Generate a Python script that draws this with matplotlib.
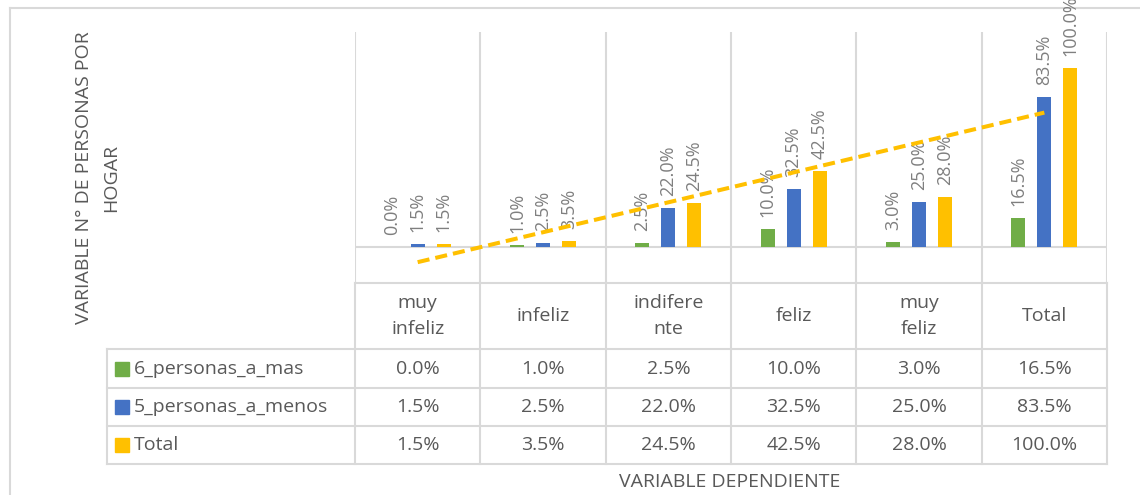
import numpy as np
import matplotlib
matplotlib.use('Agg')
import matplotlib.pyplot as plt
from matplotlib.patches import Rectangle

plt.rcParams['font.family'] = ['Open Sans', 'DejaVu Sans']

# datos
categorias = ['muy\ninfeliz', 'infeliz', 'indifere\nnte', 'feliz', 'muy\nfeliz', 'Total']
series = ['6_personas_a_mas', '5_personas_a_menos', 'Total']
seis_mas = [0.000, 0.010, 0.025, 0.100, 0.030, 0.165]
cinco_menos = [0.015, 0.025, 0.220, 0.325, 0.250, 0.835]
total = [0.015, 0.035, 0.245, 0.425, 0.280, 1.000]
valores = [seis_mas, cinco_menos, total]
colores = ['#70ad47', '#4472c4', '#ffc000']

titulo_x = 'VARIABLE DEPENDIENTE'
titulo_y = 'VARIABLE N° DE PERSONAS POR\nHOGAR'

gris = '#d9d9d9'
texto = '#595959'
etiqueta = '#7f7f7f'
fs = 14

W, H = 1140, 495
fig = plt.figure(figsize=(W / 100, H / 100), dpi=100, facecolor='white')

# caja en pixeles
x0, x1 = 355, 1107       # area de grafico / tabla
y_top, y_base = 32, 283  # area de grafico
filas = [283, 349, 388, 426, 464]
x_leyenda = 107

ax = fig.add_axes([x0 / W, 1 - y_base / H, (x1 - x0) / W, (y_base - y_top) / H])
ax.set_facecolor('none')
n = len(categorias)
x = np.arange(n)
ancho = 0.11
sep = 0.207
for i, (vals, c) in enumerate(zip(valores, colores)):
    pos = x + (i - 1) * sep
    ax.bar(pos, vals, width=ancho, color=c, zorder=2)
    for p, v in zip(pos, vals):
        ax.annotate('%.1f%%' % (v * 100), (p, v), xytext=(0, 12), textcoords='offset pixels',
                    rotation=90, ha='center', va='bottom', fontsize=13, color=etiqueta,
                    zorder=3, annotation_clip=False)

# linea de tendencia (total)
m, b = np.polyfit(x + 1, total, 1)
ax.plot(x, m * (x + 1) + b, color='#ffc000', lw=2.9, ls=(0, (3, 1.5)), zorder=4,
        solid_capstyle='butt', dash_capstyle='butt')

for xv in np.arange(n + 1) - 0.5:
    ax.axvline(xv, color=gris, lw=1.5, zorder=1)
ax.axhline(0, color=gris, lw=1.5, zorder=1)
ax.set_xlim(-0.5, n - 0.5)
ax.set_ylim(-0.2, 1.2)
ax.set_xticks([])
ax.set_yticks([])
for s in ax.spines.values():
    s.set_visible(False)

# tabla de datos
tb = fig.add_axes([0, 0, 1, 1], zorder=-1)
tb.set_xlim(0, W)
tb.set_ylim(H, 0)
tb.axis('off')

cw = (x1 - x0) / n
bordes = [x0 + k * cw for k in range(n + 1)]
tb.plot([10, W], [8, 8], color=gris, lw=1.5)
tb.plot([10, 10], [8, H], color=gris, lw=1.5)
tb.plot([x0, x1], [filas[0], filas[0]], color=gris, lw=1.5)
for yf in filas[1:]:
    tb.plot([x_leyenda, x1], [yf, yf], color=gris, lw=1.5)
for xb in bordes:
    tb.plot([xb, xb], [filas[0], filas[-1]], color=gris, lw=1.5)
tb.plot([x_leyenda, x_leyenda], [filas[1], filas[-1]], color=gris, lw=1.5)

for k, cat in enumerate(categorias):
    xc = (bordes[k] + bordes[k + 1]) / 2
    tb.text(xc, (filas[0] + filas[1]) / 2, cat, ha='center', va='center', fontsize=fs,
            color=texto, linespacing=1.6)
    for r, vals in enumerate(valores):
        yc = (filas[r + 1] + filas[r + 2]) / 2
        tb.text(xc, yc, '%.1f%%' % (vals[k] * 100), ha='center', va='center',
                fontsize=fs, color=texto)

for r, (nombre, c) in enumerate(zip(series, colores)):
    yc = (filas[r + 1] + filas[r + 2]) / 2
    tb.add_patch(Rectangle((115, yc - 7), 14, 14, color=c))
    tb.text(134, yc, nombre, ha='left', va='center', fontsize=fs, color=texto)

tb.text(730, 482, titulo_x, ha='center', va='center', fontsize=fs, color=texto)
tb.text(98, 178, titulo_y, ha='center', va='center', rotation=90, fontsize=fs,
        color=texto, linespacing=1.65, multialignment='center')

fig.savefig('out.png', dpi=100, facecolor='white')
